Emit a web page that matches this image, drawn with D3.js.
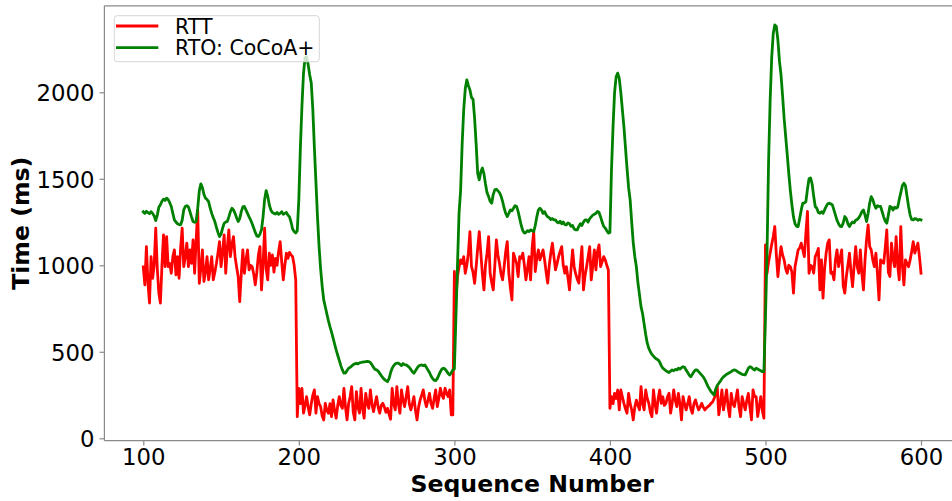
<!DOCTYPE html>
<html>
<head>
<meta charset="utf-8">
<script src="https://cdn.jsdelivr.net/npm/d3@7/dist/d3.min.js"></script>
<style>
  html, body { margin: 0; padding: 0; background: #fff; }
  svg { display: block; font-family: "DejaVu Sans", sans-serif; }
</style>
</head>
<body>
<svg id="chart" width="952" height="501"></svg>
<script>
// Sequence numbers 100..600, one sample each
const seqStart = 100;
const seqEnd = 600;

// Measured round-trip time (ms) per sequence number
const rtt = [
  992, 887,1108, 900, 782,1050, 925,1000,1215, 980,
  840, 782,1000,1176, 992,1166, 992,1010, 954,1050,
 1089, 945,1050, 925,1100,1215, 992,1050,1128, 992,
 1089,1011,1147, 954,1150,1320, 896, 980,1089, 906,
  960,1050, 916, 980,1050, 916, 960,1011,1070,1137,
  992,1080,1176, 954,1100,1205,1050,1120,1166,1050,
  990, 935, 790, 950,1089, 954,1030,1089, 973,1000,
  992, 950, 887, 960,1060,1108, 858,1000,1215, 980,
  916,1070,1000,1060, 960,1040,1000,1080,1137,1020,
  916,1000,1070,1040,1075,1060,1050,1000, 916, 125,
  289, 200, 289, 145, 190, 241, 180, 135, 200, 250,
  280, 145, 241, 200, 183, 130, 106, 202, 160, 145,
  200, 125, 222, 160, 116, 190, 241, 190, 173, 289,
  180, 106, 200, 241, 299, 150, 106, 270, 180, 145,
  289, 170, 116, 260, 200, 173, 280, 200, 154, 200,
  241, 180, 145, 190, 202, 180, 150, 173, 140, 110,
  289, 200, 164, 299, 200, 145, 280, 220, 183, 240,
  299, 200, 164, 200, 241, 160, 106, 180, 222, 250,
  280, 220, 183, 220, 260, 200, 173, 230, 280, 183,
  230, 289, 250, 231, 289, 260, 241, 280, 135, 135,
  964, 810, 935, 990,1031,1010,1050, 954,1000,1070,
 1195, 992, 960, 896, 992,1100,1195,1070, 950, 858,
 1000,1070,1166, 954, 900, 858,1000,1147,1060,1011,
  950, 916, 992,1080,1137, 954, 870, 800,1070,1040,
 1011, 935,1050,1040,1070,1000, 916, 980,1050, 916,
 1100,1195, 964,1040,1089,1031,1060,1089,1031, 960,
  897,1000,1070,1128,1050, 973,1010,1050,1080,1108,
 1000, 954, 992, 930, 858, 980,1089, 992, 950, 920,
  897,1000,1108, 858, 940, 992,1050,1108, 916,1000,
 1089, 973,1080,1118, 992,1020,1050,1031,1000, 973,
  173, 240, 200, 260, 230, 279, 164, 279, 240, 202,
  170, 145, 260, 200, 164, 106, 180, 221, 190, 164,
  299, 200, 164, 279, 230, 202, 150, 125, 279, 200,
  145, 230, 279, 202, 240, 190, 202, 240, 260, 145,
  200, 280, 220, 183, 260, 200, 106, 241, 200, 164,
  200, 241, 170, 145, 200, 222, 190, 164, 180, 202,
  180, 164, 175, 183, 190, 202, 210, 230, 250, 298,
  135, 200, 280, 164, 220, 280, 180, 125, 260, 200,
  183, 230, 280, 180, 125, 241, 200, 164, 220, 260,
  180, 106, 280, 241, 241, 125, 183, 241, 160, 116,
 1118, 954,1020,1070,1120,1166,1224,1060, 935,1030,
 1108,1060,1031, 980, 954,1000, 992, 960, 839, 992,
 1040,1089,1100,1128,1089,1050,1186,1311, 954,1000,
  992, 954,1050,1070,1098, 858,1031, 810, 980,1070,
 1128,1147, 954, 960, 916,1031,1089, 992,1040,1089,
  880, 839, 935,1000,1070, 960, 877,1000,1108, 990,
  954,1089, 950, 858,1031,1150,1234,1108,1089,1030,
  992,1070, 950, 800,1031,1020,1011,1100,1205, 960,
  935,1128,1040, 992,1166,1000, 916,1224,1000, 887,
 1031,1010, 992,1031,1080,1137,1070,1100,1128,1050,
  954
];

// Retransmission timeout (ms) computed by CoCoA+
const rto = [
 1309,1300,1312,1305,1298,1310,1300,1285,1258,1290,
 1335,1350,1370,1382,1375,1388,1380,1362,1340,1300,
 1262,1250,1240,1235,1234,1260,1320,1340,1345,1338,
 1310,1280,1253,1248,1253,1330,1430,1471,1450,1410,
 1388,1380,1368,1330,1300,1275,1253,1220,1190,1166,
 1180,1215,1243,1250,1253,1280,1310,1330,1320,1300,
 1275,1253,1270,1310,1338,1340,1320,1300,1280,1262,
 1240,1215,1190,1170,1166,1180,1205,1280,1380,1432,
 1400,1350,1320,1305,1300,1296,1305,1295,1300,1310,
 1295,1300,1305,1290,1280,1250,1210,1195,1186,1200,
 1380,1680,1920,2110,2200,2205,2160,2100,2053,1900,
 1680,1480,1280,1110, 980, 880, 800, 760, 720, 680,
  645, 615, 580, 545, 511, 480, 450, 420, 395, 376,
  378, 392, 405, 410, 418, 426, 430, 434, 430, 436,
  438, 440, 442, 443, 445, 443, 438, 425, 410, 398,
  395, 388, 375, 362, 350, 340, 333, 327, 345, 380,
  405, 420, 430, 434, 434, 428, 420, 432, 426, 424,
  418, 410, 398, 385, 376, 390, 405, 418, 422, 424,
  420, 424, 410, 395, 380, 360, 345, 336, 333, 345,
  365, 385, 400, 405, 400, 388, 375, 366, 378, 395,
  400, 700,1000,1300,1430,1700,1899,2020,2072,2040,
 2014,1970,1960,1850,1700,1530,1494,1540,1562,1530,
 1470,1420,1397,1370,1359,1410,1436,1440,1430,1420,
 1400,1370,1330,1300,1282,1300,1320,1315,1330,1345,
 1340,1310,1270,1230,1200,1186,1190,1200,1195,1205,
 1200,1195,1230,1280,1320,1330,1320,1300,1310,1291,
 1280,1275,1265,1270,1262,1262,1250,1245,1255,1240,
 1250,1235,1234,1245,1240,1225,1230,1210,1205,1205,
 1225,1240,1230,1250,1262,1262,1250,1270,1280,1290,
 1295,1300,1311,1305,1280,1250,1225,1215,1200,1186,
 1190,1550,1800,2000,2090,2111,2080,2000,1900,1800,
 1680,1560,1450,1378,1250,1130,1050, 992, 900, 830,
  760, 720, 660, 600, 550, 520, 500, 485, 475, 465,
  458, 453, 440, 420, 405, 398, 390, 385, 380, 388,
  395, 390, 398, 395, 405, 400, 408, 414, 410, 395,
  380, 365, 356, 370, 385, 395, 395, 385, 375, 365,
  355, 340, 320, 300, 285, 270, 260, 250, 285, 305,
  318, 330, 345, 355, 362, 370, 375, 380, 385, 392,
  395, 392, 385, 380, 375, 370, 368, 366, 385, 405,
  414, 410, 400, 395, 405, 400, 395, 390, 385, 385,
  700,1070,1600,1950,2200,2340,2390,2380,2300,2180,
 2100,1980,1850,1744,1640,1530,1430,1350,1280,1240,
 1225,1224,1270,1320,1359,1360,1368,1440,1500,1505,
 1470,1400,1340,1330,1305,1301,1310,1300,1320,1340,
 1355,1359,1355,1349,1320,1290,1260,1240,1225,1224,
 1245,1282,1270,1240,1224,1240,1250,1245,1260,1265,
 1275,1290,1310,1320,1290,1253,1300,1360,1397,1380,
 1350,1330,1345,1340,1340,1310,1280,1255,1243,1290,
 1340,1335,1320,1335,1330,1335,1380,1420,1460,1475,
 1460,1400,1340,1290,1265,1262,1270,1268,1260,1265,
 1262
];

const xTicks = [100, 200, 300, 400, 500, 600];
const yTicks = [0, 500, 1000, 1500, 2000];
const seriesNames = ["RTT", "RTO: CoCoA+"];
const seriesColors = ["#ff0000", "#008000"];

const svg = d3.select("#chart");
const plot = { left: 104.4, right: 959.9, top: 5.8, bottom: 440.7 };

const x = d3.scaleLinear().domain([75, 625]).range([plot.left, plot.right]);
const y = d3.scaleLinear().domain([-14, 2500]).range([plot.bottom, plot.top]);

const seq = d3.range(seqStart, seqEnd + 1);
const series = [rtt, rto].map(vals => vals.map((v, i) => [seq[i], v]));

// clip lines to the axes area
svg.append("defs").append("clipPath").attr("id", "plotclip")
  .append("rect")
  .attr("x", plot.left).attr("y", plot.top)
  .attr("width", plot.right - plot.left).attr("height", plot.bottom - plot.top);

const line = d3.line().x(d => x(d[0])).y(d => y(d[1]));

const lines = svg.append("g").attr("clip-path", "url(#plotclip)");
series.forEach((s, k) => {
  lines.append("path")
    .datum(s)
    .attr("fill", "none")
    .attr("stroke", seriesColors[k])
    .attr("stroke-width", 2.8)
    .attr("stroke-linejoin", "round")
    .attr("stroke-linecap", "square")
    .attr("d", line);
});

// spines
const spineColor = "#8a8a8a";
svg.append("line").attr("x1", plot.left).attr("x2", plot.left)
  .attr("y1", plot.top).attr("y2", plot.bottom)
  .attr("stroke", spineColor).attr("stroke-width", 1.2);
svg.append("line").attr("x1", plot.left).attr("x2", plot.right)
  .attr("y1", plot.bottom).attr("y2", plot.bottom)
  .attr("stroke", spineColor).attr("stroke-width", 1.2);
svg.append("line").attr("x1", plot.left).attr("x2", plot.right)
  .attr("y1", plot.top).attr("y2", plot.top)
  .attr("stroke", spineColor).attr("stroke-width", 1.2);

// axes
const fmt = d3.format("d");
const xAxis = d3.axisBottom(x).tickValues(xTicks).tickFormat(fmt).tickSize(4.9).tickPadding(6);
const yAxis = d3.axisLeft(y).tickValues(yTicks).tickFormat(fmt).tickSize(4.9).tickPadding(5);

const gx = svg.append("g").attr("transform", `translate(0,${plot.bottom})`).call(xAxis);
const gy = svg.append("g").attr("transform", `translate(${plot.left},0)`).call(yAxis);
[gx, gy].forEach(g => {
  g.select(".domain").remove();
  g.selectAll(".tick line").attr("stroke", spineColor).attr("stroke-width", 1.2);
  g.selectAll(".tick text")
    .attr("fill", "#000")
    .style("font-family", "'DejaVu Sans', sans-serif")
    .style("font-size", "22.8px");
});
gx.selectAll(".tick text").attr("y", 24.3).attr("dy", 0);
gy.selectAll(".tick text").attr("dy", "0.36em");

// axis titles
svg.append("text")
  .attr("x", (plot.left + plot.right) / 2).attr("y", 491.5)
  .attr("text-anchor", "middle")
  .style("font-size", "23.6px").style("font-weight", "bold")
  .text("Sequence Number");

svg.append("text")
  .attr("transform", `translate(28.5,${(plot.top + plot.bottom) / 2}) rotate(-90)`)
  .attr("text-anchor", "middle")
  .style("font-size", "23.6px").style("font-weight", "bold")
  .text("Time (ms)");

// legend
const lg = svg.append("g");
lg.append("rect")
  .attr("x", 114.3).attr("y", 15.7).attr("width", 205).attr("height", 46)
  .attr("rx", 3).attr("ry", 3)
  .attr("fill", "#fff").attr("fill-opacity", 0.8)
  .attr("stroke", "#d6d6d6").attr("stroke-width", 1);
const legendRows = [26, 47.7];
seriesNames.forEach((name, k) => {
  lg.append("line")
    .attr("x1", 116).attr("x2", 158.3)
    .attr("y1", legendRows[k]).attr("y2", legendRows[k])
    .attr("stroke", seriesColors[k]).attr("stroke-width", 2.8);
  lg.append("text")
    .attr("x", 175).attr("y", legendRows[k] + 7.6)
    .style("font-size", "20.5px")
    .attr("fill", "#000")
    .text(name);
});
</script>
</body>
</html>
